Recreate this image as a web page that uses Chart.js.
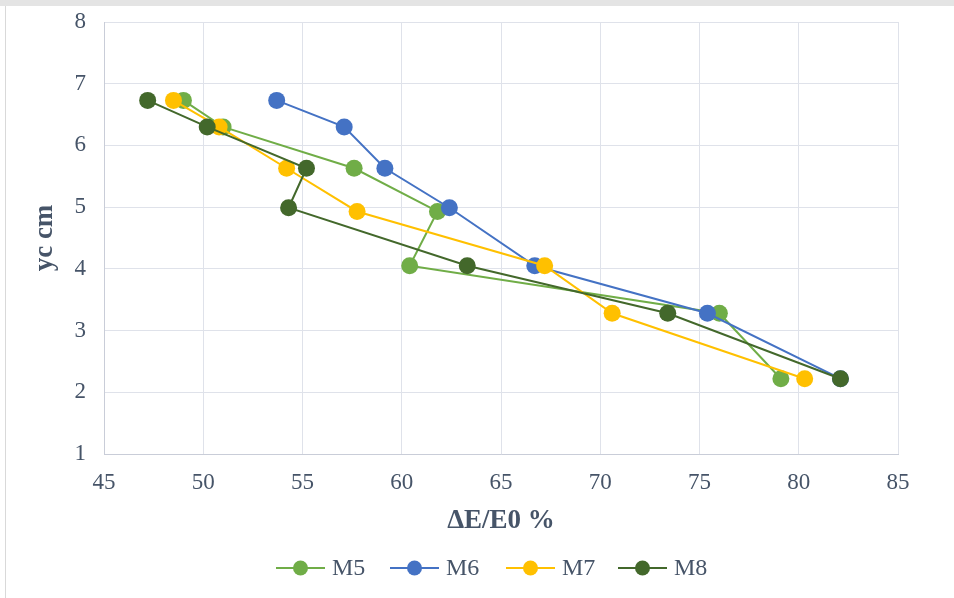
<!DOCTYPE html>
<html>
<head>
<meta charset="utf-8">
<script src="https://cdn.jsdelivr.net/npm/chart.js@4"></script>
<style>
  html, body { margin: 0; padding: 0; background: #fff; }
  #wrap { width: 954px; height: 598px; position: relative; }
</style>
</head>
<body>
<div id="wrap"><canvas id="chart" width="954" height="598"></canvas></div>
<script>
const seriesNames = ["M5", "M6", "M7", "M8"];
const seriesColors = ["#70AD47", "#4472C4", "#FFC000", "#43682B"];
const m5x = [49.0, 51.0, 57.6, 61.8, 60.4, 76.0, 79.1];
const m5y = [6.73, 6.30, 5.63, 4.93, 4.05, 3.28, 2.22];
const m6x = [53.7, 57.1, 59.15, 62.4, 66.7, 75.4, 82.1];
const m6y = [6.73, 6.30, 5.63, 4.99, 4.05, 3.28, 2.22];
const m7x = [48.5, 50.8, 54.2, 57.75, 67.2, 70.6, 80.3];
const m7y = [6.73, 6.30, 5.63, 4.93, 4.05, 3.28, 2.22];
const m8x = [47.2, 50.2, 55.2, 54.3, 63.3, 73.4, 82.1];
const m8y = [6.73, 6.30, 5.63, 4.99, 4.05, 3.28, 2.22];

const xs = [m5x, m6x, m7x, m8x];
const ys = [m5y, m6y, m7y, m8y];

const tickColor = "#465468";
const gridColor = "#dfe2ea";

// later series sit on top, as in the original
const datasets = seriesNames.map((name, i) => ({
    label: name,
    data: xs[i].map((x, k) => ({ x: x, y: ys[i][k] })),
    order: seriesNames.length - i,
    showLine: true,
    borderColor: seriesColors[i],
    backgroundColor: seriesColors[i],
    borderWidth: 2,
    pointRadius: 8.5,
    pointHoverRadius: 8.5,
    pointBorderWidth: 0,
    tension: 0
}));

// legend: line with a dot, centred under the chart
const legendPlugin = {
    id: "lineDotLegend",
    afterDraw(chart) {
        const ctx = chart.ctx;
        const y = 568;
        const starts = [276, 390, 506, 618];
        ctx.save();
        ctx.font = "24px 'Liberation Serif'";
        ctx.textBaseline = "middle";
        seriesNames.forEach((name, i) => {
            const x0 = starts[i];
            ctx.strokeStyle = seriesColors[i];
            ctx.lineWidth = 2;
            ctx.beginPath();
            ctx.moveTo(x0, y);
            ctx.lineTo(x0 + 49, y);
            ctx.stroke();
            ctx.fillStyle = seriesColors[i];
            ctx.beginPath();
            ctx.arc(x0 + 24.5, y, 7.5, 0, Math.PI * 2);
            ctx.fill();
            ctx.fillStyle = tickColor;
            ctx.fillText(name, x0 + 56, y + 1);
        });
        ctx.restore();
    },
    beforeDraw(chart) {
        const ctx = chart.ctx;
        ctx.save();
        ctx.fillStyle = "#fff";
        ctx.fillRect(0, 0, chart.width, chart.height);
        ctx.fillStyle = "#e4e4e4";
        ctx.fillRect(0, 0, chart.width, 6);
        ctx.strokeStyle = "#d9d9d9";
        ctx.lineWidth = 1;
        ctx.beginPath();
        ctx.moveTo(5.5, 6);
        ctx.lineTo(5.5, chart.height);
        ctx.stroke();
        ctx.restore();
    }
};

new Chart(document.getElementById("chart"), {
    type: "scatter",
    data: { datasets: datasets },
    plugins: [legendPlugin],
    options: {
        responsive: false,
        animation: false,
        layout: { padding: { top: 22, right: 56, left: 0, bottom: 0 } },
        plugins: {
            legend: { display: false },
            tooltip: { enabled: false }
        },
        scales: {
            x: {
                type: "linear",
                min: 45,
                max: 85,
                ticks: {
                    stepSize: 5,
                    color: tickColor,
                    padding: 15,
                    font: { family: "'Liberation Serif'", size: 23 }
                },
                grid: { color: gridColor, drawTicks: false },
                border: { color: "#c9cdd8" },
                title: {
                    display: true,
                    text: "ΔE/E0 %",
                    color: tickColor,
                    font: { family: "'Liberation Serif'", size: 27, weight: "bold" },
                    padding: { top: 0, bottom: 61 }
                },
                afterFit(scale) { scale.height = 144; }
            },
            y: {
                type: "linear",
                min: 1,
                max: 8,
                ticks: {
                    stepSize: 1,
                    color: tickColor,
                    padding: 0,
                    font: { family: "'Liberation Serif'", size: 23 }
                },
                // invisible tick marks push the labels off the axis without adding top padding
                grid: { color: gridColor, drawTicks: true, tickLength: 18, tickColor: "rgba(0,0,0,0)" },
                border: { color: "#c9cdd8" },
                title: {
                    display: true,
                    text: "yc cm",
                    color: tickColor,
                    font: { family: "'Liberation Serif'", size: 27, weight: "bold" },
                    padding: { top: 29, bottom: 0 }
                },
                afterFit(scale) { scale.width = 104; }
            }
        }
    }
});
</script>
</body>
</html>
